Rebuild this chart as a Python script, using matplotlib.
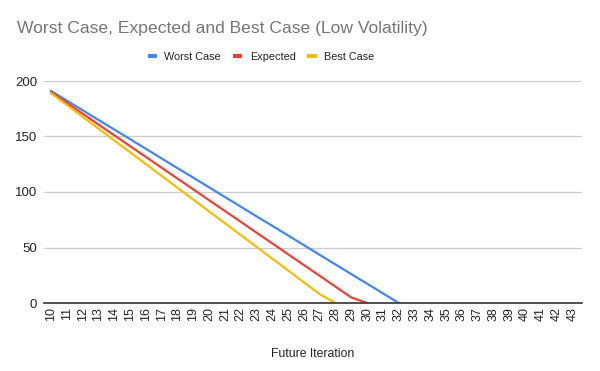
import matplotlib
matplotlib.use("Agg")
import matplotlib.pyplot as plt
import numpy as np
from matplotlib.lines import Line2D
from matplotlib import font_manager

categories = [str(i) for i in range(10, 44)]
worst_case = [191, 182.3, 173.6, 164.9, 156.3, 147.6, 138.9, 130.2, 121.5, 112.9,
              104.2, 95.5, 86.8, 78.1, 69.5, 60.8, 52.1, 43.4, 34.7, 26.0, 17.4, 8.7, 0]
expected = [190, 180.3, 170.5, 160.8, 151.1, 141.3, 131.6, 121.8, 112.1, 102.4,
            92.6, 82.9, 73.2, 63.4, 53.7, 43.9, 34.2, 24.5, 14.7, 5, 0]
best_case = [189, 178.4, 167.7, 157.1, 146.4, 135.8, 125.1, 114.5, 103.8, 93.2,
             82.5, 71.9, 61.2, 50.6, 39.9, 29.3, 18.6, 8, 0]
y_ticks = [0, 50, 100, 150, 200]

series = [("Worst Case", worst_case, "#4285F4"),
          ("Expected", expected, "#EA4335"),
          ("Best Case", best_case, "#FBBC04")]

plt.rcParams['font.family'] = ['Liberation Sans', 'DejaVu Sans']

names = {f.name for f in font_manager.fontManager.ttflist}
if 'Liberation Sans Narrow' in names:
    narrow = ['Liberation Sans Narrow', 'DejaVu Sans']
    title_size, leg_size = 15.2, 9.3
else:
    narrow = ['Liberation Sans', 'DejaVu Sans']
    title_size, leg_size = 12.6, 7.8

fig = plt.figure(figsize=(6, 3.71), dpi=100)
ax = fig.add_axes([44/600, (371-303)/371, (582-44)/600, (303-81)/371])

x = np.arange(len(categories))
handles = []
for name, vals, col in series:
    ax.plot(x[:len(vals)], vals, color=col, lw=1.6, solid_joinstyle='round', zorder=3)
    handles.append(Line2D([0], [0], color=col, lw=3, solid_capstyle='butt'))

ax.set_xlim(-0.45, len(categories) - 1 + 0.6)
ax.set_ylim(0, 200)
ax.set_yticks(y_ticks)
ax.set_yticklabels([str(v) for v in y_ticks], fontsize=9.5, color='#222222')
ax.set_xticks(x)
ax.set_xticklabels(categories, rotation=90, fontsize=9, color='#222222')
ax.tick_params(length=0, pad=5)
ax.tick_params(axis='x', pad=3)
ax.grid(axis='y', color='#cccccc', lw=0.9)
ax.set_axisbelow(True)
for s in ['top', 'right', 'left']:
    ax.spines[s].set_visible(False)
ax.spines['bottom'].set_color('#333333')
ax.spines['bottom'].set_linewidth(1.2)
ax.spines['bottom'].set_zorder(4)

ax.set_xlabel("Future Iteration", fontsize=8.8, color='#222222', labelpad=19)

fig.text(17/600, 1 - 28/371, "Worst Case, Expected and Best Case (Low Volatility)",
         fontsize=title_size, color='#757575', ha='left', va='center', family=narrow)

leg = fig.legend(handles, [s[0] for s in series], loc='center', bbox_to_anchor=(261/600, 1 - 57/371),
                 ncol=3, frameon=False, handlelength=0.85, handletextpad=0.7,
                 columnspacing=1.1, labelcolor='#222222',
                 prop={'family': narrow, 'size': leg_size})

fig.savefig("out.png", dpi=100)
